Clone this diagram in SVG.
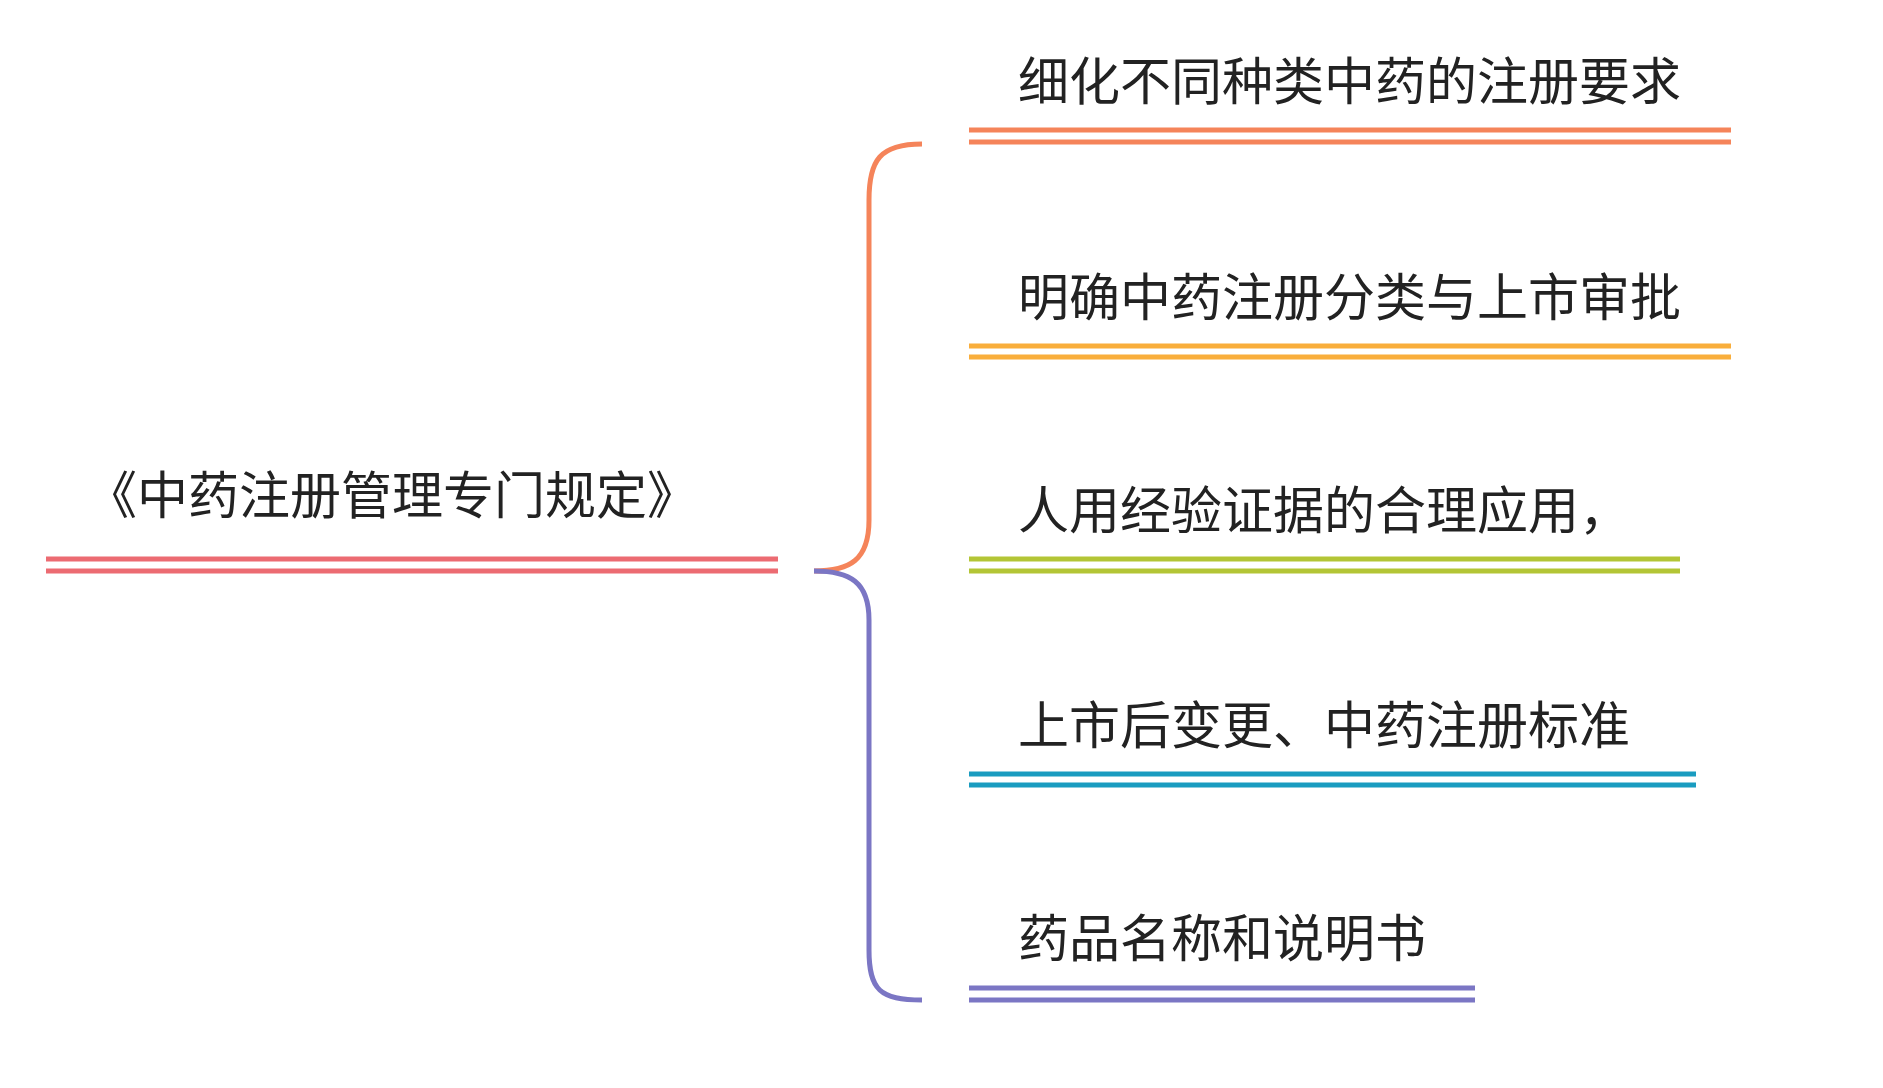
<svg xmlns="http://www.w3.org/2000/svg" width="1883" height="1088" viewBox="0 0 1883 1088">
<style>
text{font-family:"Noto Sans CJK SC","Noto Sans",sans-serif;fill:#222}
.b{font-size:51px}.r{font-size:51px}
line{stroke-width:5}
path{fill:none;stroke-width:5}
</style>
<rect width="1883" height="1088" fill="#fff"/>
<g id="connectors">
<path d="M922,144 C880,144 869,160 869,200 L869,520 C869,560 850,571 814,571" stroke="#f5845a"/>
<path d="M814,571 C850,571 869,582 869,620 L869,950 C869,990 880,1000 922,1000" stroke="#7b76c4"/>
</g>
<g id="root"><line x1="46" y1="559" x2="778" y2="559" stroke="#ec6b72"/><line x1="46" y1="571" x2="778" y2="571" stroke="#ec6b72"/><text class="r" x="86" y="514">《中药注册管理专门规定》</text></g>
<g id="n1"><line x1="969" y1="130" x2="1731" y2="130" stroke="#f5845a"/><line x1="969" y1="142" x2="1731" y2="142" stroke="#f5845a"/><text class="b" x="1018" y="100">细化不同种类中药的注册要求</text></g>
<g id="n2"><line x1="969" y1="346" x2="1731" y2="346" stroke="#f9ae3b"/><line x1="969" y1="357" x2="1731" y2="357" stroke="#f9ae3b"/><text class="b" x="1018" y="316">明确中药注册分类与上市审批</text></g>
<g id="n3"><line x1="969" y1="559" x2="1680" y2="559" stroke="#b3c535"/><line x1="969" y1="571" x2="1680" y2="571" stroke="#b3c535"/><text class="b" x="1018" y="529">人用经验证据的合理应用，</text></g>
<g id="n4"><line x1="969" y1="774" x2="1696" y2="774" stroke="#1a9cc0"/><line x1="969" y1="785" x2="1696" y2="785" stroke="#1a9cc0"/><text class="b" x="1018" y="744">上市后变更、中药注册标准</text></g>
<g id="n5"><line x1="969" y1="988" x2="1475" y2="988" stroke="#7b76c4"/><line x1="969" y1="1000" x2="1475" y2="1000" stroke="#7b76c4"/><text class="b" x="1018" y="957">药品名称和说明书</text></g>
</svg>
